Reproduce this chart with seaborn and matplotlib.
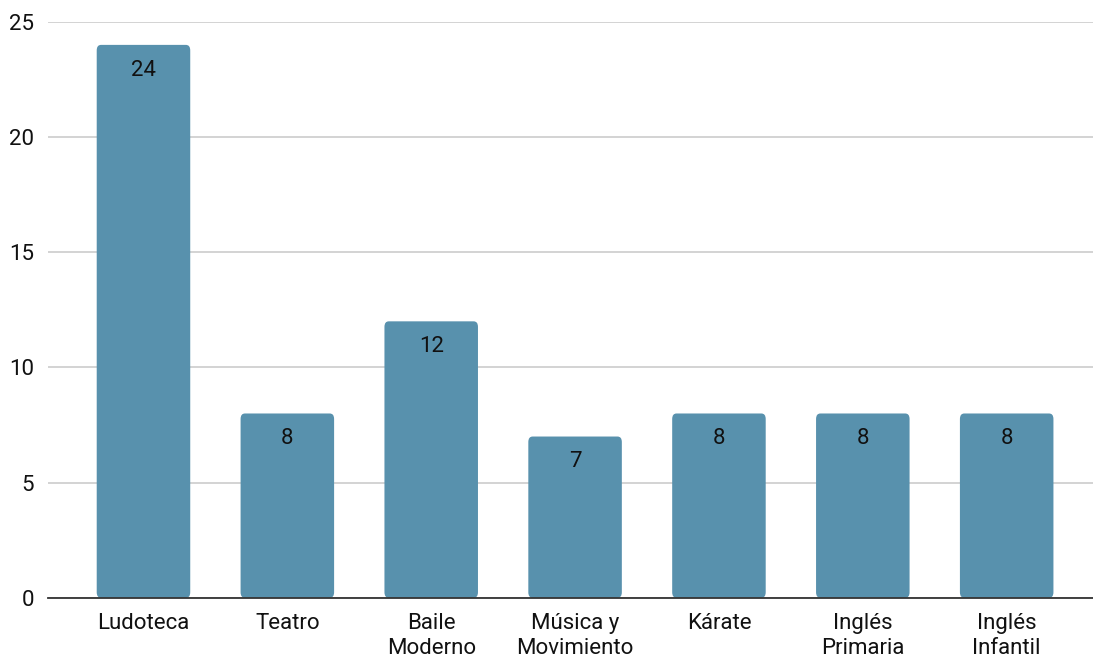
import pandas as pd
import seaborn as sns
import matplotlib.pyplot as plt
from matplotlib.patches import FancyBboxPatch

categories = ["Ludoteca", "Teatro", "Baile\nModerno", "Música y\nMovimiento",
              "Kárate", "Inglés\nPrimaria", "Inglés\nInfantil"]
values = [24, 8, 12, 7, 8, 8, 8]

df = pd.DataFrame({"actividad": categories, "alumnos": values})

sns.set_style("white")
plt.rcParams["font.family"] = ["Roboto", "DejaVu Sans"]

fig = plt.figure(figsize=(10.93, 6.62), dpi=100)
ax = fig.add_axes([0.044, 0.097, 0.956, 0.870])

sns.barplot(data=df, x="actividad", y="alumnos", color="#5891ad",
            saturation=1, width=0.65, ax=ax, zorder=3)

# rounded top corners on the bars
for p in list(ax.patches):
    x, y = p.get_x(), p.get_y()
    w, h = p.get_width(), p.get_height()
    p.set_visible(False)
    r = FancyBboxPatch((x, y), w, h, boxstyle="round,pad=0,rounding_size=0.03",
                       mutation_aspect=8, facecolor="#5891ad", edgecolor="none", zorder=3)
    ax.add_patch(r)
    ax.text(x + w / 2, y + h - 0.65, f"{int(h)}", ha="center", va="top",
            fontsize=16, color="#111111", zorder=4)

ax.set_ylim(0, 25)
ax.set_xlim(-0.663, 6.6)
ax.set_yticks([0, 5, 10, 15, 20, 25])
ax.yaxis.grid(True, color="#cccccc", linewidth=1.2, zorder=0)
ax.set_xlabel("")
ax.set_ylabel("")
ax.tick_params(axis="both", length=0, labelsize=16, colors="#111111")
ax.tick_params(axis="x", pad=11)
ax.tick_params(axis="y", pad=10)
for lbl in ax.get_xticklabels():
    lbl.set_multialignment("center")
    lbl.set_linespacing(1.25)
for s in ["left", "right", "top"]:
    ax.spines[s].set_visible(False)
ax.spines["bottom"].set_color("#333333")
ax.spines["bottom"].set_linewidth(1.3)
ax.spines["bottom"].set_zorder(5)

fig.savefig("out.png", dpi=100)
